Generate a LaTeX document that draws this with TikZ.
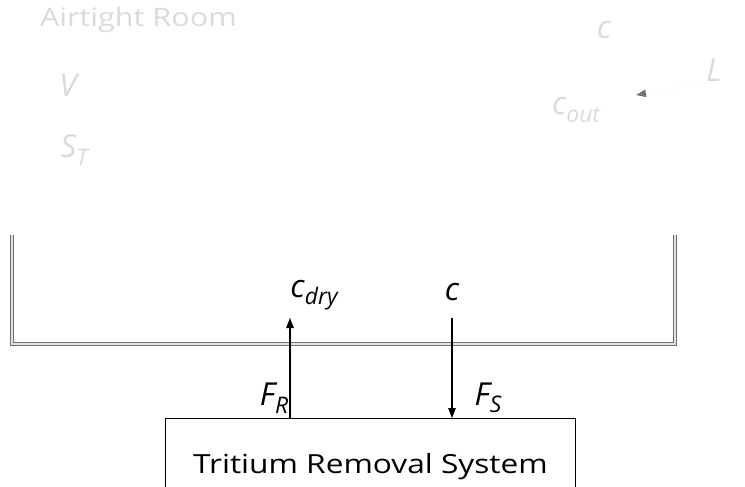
\documentclass[tikz,border=0pt]{standalone}
\usepackage{fontspec}
\setmainfont{Open Sans}
\newfontfamily\widesans[FakeStretch=1.2]{Open Sans}
\usetikzlibrary{positioning,arrows.meta}
\definecolor{wallgrey}{HTML}{6E6E6E}
\definecolor{ghost}{HTML}{DADADA}
\newcommand{\symsub}[2]{#1\raisebox{-0.45ex}{\fontsize{13}{15}\selectfont #2}}
\tikzset{
  wall/.style={draw=wallgrey, double=white!80!wallgrey, double distance=1.2pt, line width=0.5pt},
  ar/.style={-{Triangle[length=2mm,width=1.5mm]}, line width=0.6pt},
  sym/.style={font=\fontsize{18}{21}\selectfont\itshape, inner sep=1pt},
  ghostsym/.style={sym, text=ghost},
  ghosttxt/.style={font=\widesans\fontsize{14.5}{17}\selectfont, text=ghost, inner sep=1pt},
  sysbox/.style={draw, line width=0.6pt, minimum width=82mm, minimum height=19.4mm,
                 font=\widesans\fontsize{15}{18}\selectfont, inner sep=0pt},
}
\begin{document}
\begin{tikzpicture}[x=0.2mm, y=-0.2mm]
  \useasboundingbox (0,0) rectangle (745,487);

  % faint labels of the room
  \node[ghosttxt, anchor=west] (room) at (38,20) {Airtight Room};
  \node[ghostsym] (vol) at (68,85) {V};
  \node[ghostsym] (area) at (74,150) {\symsub{S}{T}};
  \node[ghostsym] (conc) at (604,30) {c};
  \node[ghostsym] (leak) at (714,70) {L};
  \node[ghostsym] (cout) at (576,110) {\symsub{c}{out}};
  \coordinate (ltip) at (636,95);
  \draw[-{Triangle[length=2mm,width=1.5mm,color=black!55]}, draw=white!98!black, line width=0.5pt]
    (leak.south west) -- (ltip);

  % room walls
  \draw[wall] (12,235) -- (12,344) -- (675,344) -- (675,235);

  % removal system
  \node[sysbox, anchor=north west] (sys) at (165,418) {Tritium Removal System};

  \node[sym] (cdry) at (314,295) {\symsub{c}{dry}};
  \node[sym] (cin) at (452,292) {c};
  \coordinate (rtip) at (290,318);
  \coordinate (stail) at (452,318);
  \draw[ar] (sys.north -| rtip) -- (rtip);
  \draw[ar] (stail) -- (sys.north -| stail);

  \node[sym] (fr) at (274,398) {\symsub{F}{R}};
  \node[sym] (fs) at (488,398) {\symsub{F}{S}};
\end{tikzpicture}
\end{document}
